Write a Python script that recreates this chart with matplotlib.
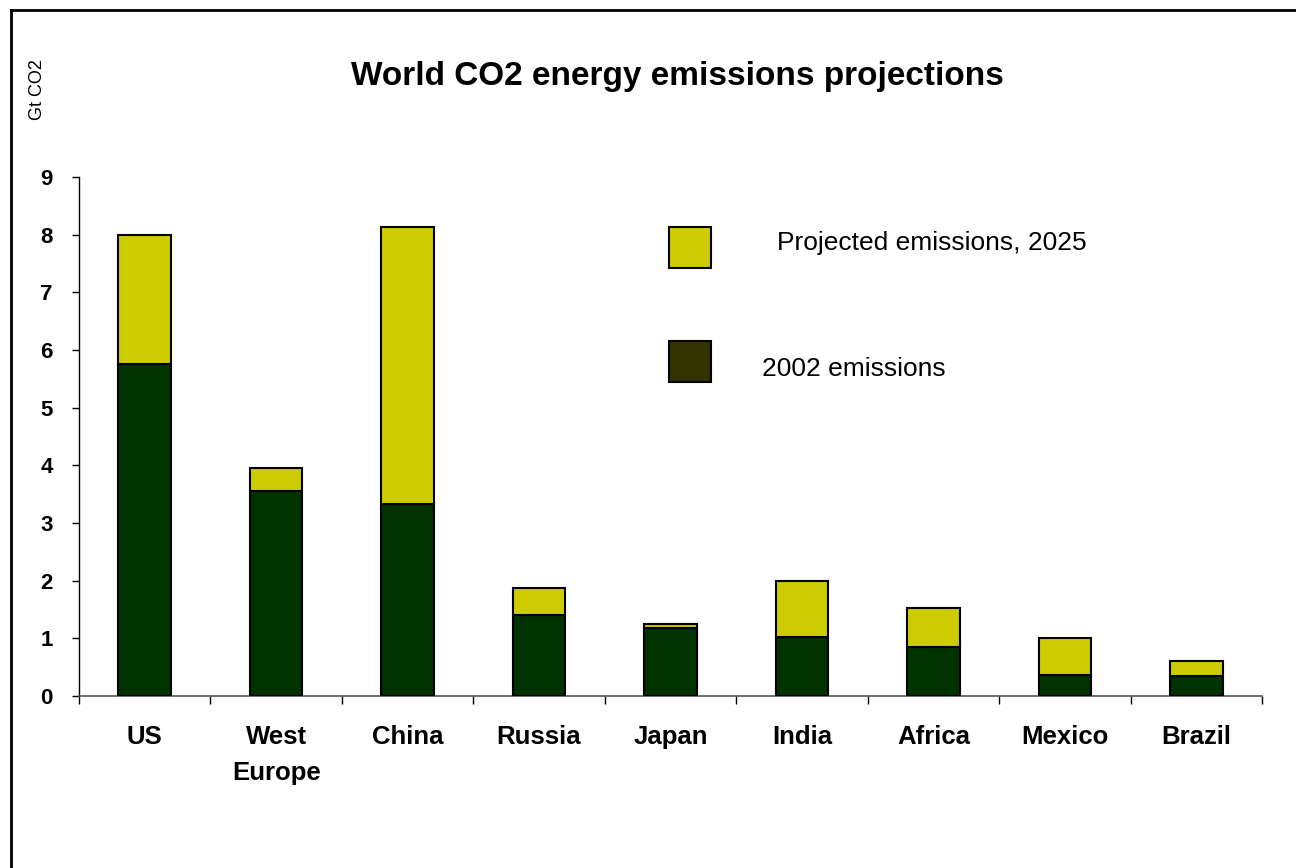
import matplotlib
matplotlib.use("Agg")
import matplotlib.pyplot as plt
from matplotlib.patches import Rectangle
from matplotlib.lines import Line2D
import numpy as np

plt.rcParams['font.family'] = ['Liberation Sans', 'DejaVu Sans']

regions = ["US", "West\nEurope", "China", "Russia", "Japan", "India", "Africa", "Mexico", "Brazil"]
emissions_2002 = [5.76, 3.55, 3.33, 1.41, 1.18, 1.02, 0.85, 0.36, 0.35]
projected_2025 = [7.99, 3.95, 8.13, 1.87, 1.25, 2.00, 1.53, 1.01, 0.60]
yticks = list(range(0, 10))

dark_green = "#003300"
yellow = "#CCCC00"
legend_dark = "#333300"

fig = plt.figure(figsize=(12.96, 8.68), dpi=100)
ax = fig.add_axes([79/1296, 1 - 696/868, (1262 - 79)/1296, (696 - 177)/868])

x = np.arange(len(regions))
growth = [p - b for p, b in zip(projected_2025, emissions_2002)]
ax.bar(x, emissions_2002, width=0.40, color=dark_green, edgecolor="black", linewidth=1.5, zorder=3)
ax.bar(x, growth, bottom=emissions_2002, width=0.40, color=yellow, edgecolor="black", linewidth=1.5, zorder=3)

ax.set_xlim(-0.5, len(regions) - 0.5)
ax.set_ylim(0, 9)
ax.set_yticks(yticks)
ax.set_yticklabels([str(t) for t in yticks], fontsize=16, fontweight="bold")
ax.tick_params(axis="y", direction="out", length=5, width=1, pad=14)

# category boundaries carry the tick marks; names sit at bar centres
ax.set_xticks(np.arange(-0.5, len(regions), 1.0))
ax.set_xticklabels([])
ax.tick_params(axis="x", which="major", direction="out", length=6, width=1)
ax.set_xticks(x, minor=True)
ax.set_xticklabels(regions, minor=True, fontsize=18.5, fontweight="bold", linespacing=1.6, va="top")
ax.tick_params(axis="x", which="minor", length=0, pad=21)

for side in ("top", "right"):
    ax.spines[side].set_visible(False)
ax.spines["left"].set_linewidth(1)
ax.spines["bottom"].set_linewidth(1.2)
ax.spines["bottom"].set_color("#555555")

# legend boxes drawn inside the plotting area
def fig_box(x0, y0, x1, y1, color):
    fig.patches.append(Rectangle((x0/1296, 1 - y1/868), (x1 - x0)/1296, (y1 - y0)/868,
                                 transform=fig.transFigure, facecolor=color,
                                 edgecolor="black", linewidth=1.5))

fig_box(669, 227, 711, 268, yellow)
fig_box(669, 341, 711, 382, legend_dark)
fig.text(777/1296, 1 - 243/868, "Projected emissions, 2025", fontsize=19, ha="left", va="center")
fig.text(762/1296, 1 - 369/868, "2002 emissions", fontsize=19, ha="left", va="center")

fig.text(677/1296, 1 - 76/868, "World CO2 energy emissions projections", fontsize=24,
         fontweight="bold", ha="center", va="center")
fig.text(38/1296, 1 - 90/868, "Gt CO2", fontsize=13, rotation=90, ha="center", va="center")

# frame lines along the left and top edges
fig.lines.append(Line2D([10.5/1296, 10.5/1296], [0, 1 - 10/868], transform=fig.transFigure, color="black", linewidth=2))
fig.lines.append(Line2D([10.5/1296, 1], [1 - 10/868, 1 - 10/868], transform=fig.transFigure, color="black", linewidth=2))

fig.savefig("out.png", dpi=100, facecolor="white")
